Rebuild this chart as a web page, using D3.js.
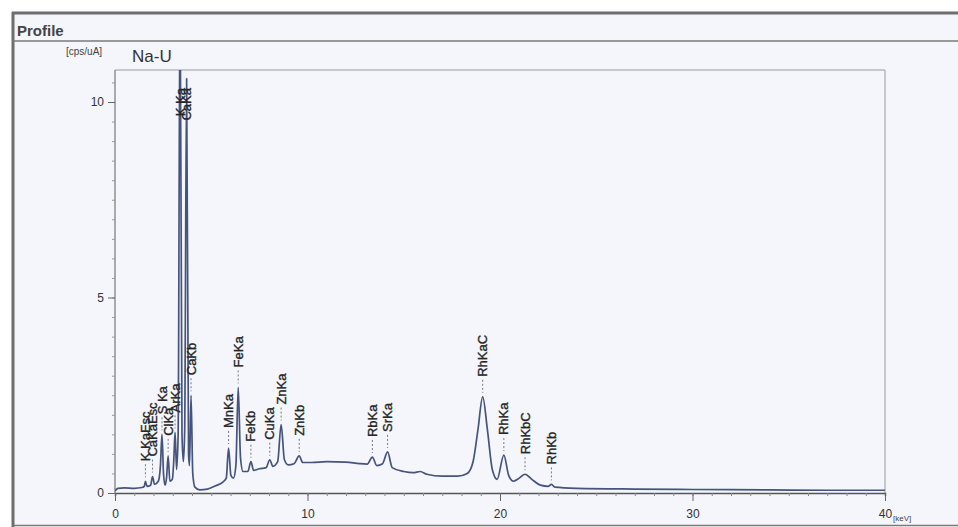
<!DOCTYPE html>
<html>
<head>
<meta charset="utf-8">
<script src="https://cdn.jsdelivr.net/npm/d3@7"></script>
<style>
  html, body { margin: 0; padding: 0; background: #ffffff; }
  svg { display: block; font-family: "Liberation Sans", Arial, sans-serif; }
</style>
</head>
<body>
<svg id="chart" width="958" height="527"></svg>
<script>
// X-ray fluorescence profile, Na-U channel
const sampleName = "Na-U";
const yUnit = "[cps/uA]";
const xUnit = "[keV]";

// spectrum read-out: energy (keV) and intensity (cps/uA)
const energyKeV = [
  0.00, 0.15, 0.50, 1.00, 1.40, 1.52, 1.58, 1.66, 1.85, 1.95, 2.05, 2.25, 2.36, 2.44, 2.52,
  2.60, 2.68, 2.76, 2.85, 2.98, 3.05, 3.12, 3.20, 3.28, 3.38, 3.48, 3.55, 3.62, 3.72, 3.82,
  3.87, 3.95, 4.04, 4.15, 4.40, 4.80, 5.20, 5.60, 5.78, 5.90, 6.02, 6.15, 6.28, 6.40, 6.52,
  6.65, 6.90, 7.06, 7.20, 7.50, 7.85, 8.04, 8.20, 8.45, 8.63, 8.80, 9.00, 9.30, 9.57, 9.75,
  10.2, 11.0, 12.0, 12.7, 13.1, 13.37, 13.6, 13.9, 14.16, 14.4, 15.0, 15.5, 15.85, 16.2, 17.0,
  17.8, 18.3, 18.6, 18.85, 19.1, 19.35, 19.6, 19.85, 20.2, 20.45, 20.7, 21.0, 21.3, 21.65, 22.1,
  22.5, 22.67, 22.85, 24.0, 27.0, 30.0, 34.0, 37.0, 40.0
];
const intensity = [
  0.05, 0.12, 0.13, 0.12, 0.14, 0.17, 0.30, 0.17, 0.20, 0.42, 0.22, 0.30, 0.70, 1.50, 0.50,
  0.20, 0.40, 0.95, 0.30, 0.35, 0.80, 1.55, 0.60, 1.50, 13.0, 1.50, 0.80, 1.60, 10.6, 1.00,
  0.70, 2.50, 0.50, 0.15, 0.08, 0.10, 0.18, 0.28, 0.38, 1.15, 0.45, 0.38, 0.70, 2.70, 0.90,
  0.55, 0.55, 0.80, 0.58, 0.62, 0.65, 0.85, 0.68, 0.80, 1.75, 0.85, 0.72, 0.75, 0.95, 0.78,
  0.78, 0.80, 0.79, 0.75, 0.74, 0.92, 0.70, 0.75, 1.05, 0.65, 0.55, 0.52, 0.55, 0.48, 0.43,
  0.43, 0.50, 0.80, 1.60, 2.46, 1.60, 0.60, 0.35, 0.97, 0.45, 0.30, 0.38, 0.48, 0.35, 0.20,
  0.17, 0.22, 0.15, 0.12, 0.10, 0.09, 0.08, 0.07, 0.07
];

// identified lines
const lineNames = ["K KaEsc", "CaKaEsc", "S Ka", "ClKa", "ArKa", "K Ka", "CaKa", "CaKb",
                   "MnKa", "FeKa", "FeKb", "CuKa", "ZnKa", "ZnKb",
                   "RbKa", "SrKa", "RhKaC", "RhKa", "RhKbC", "RhKb"];
const lineKeV = [1.58, 1.95, 2.44, 2.76, 3.12, 3.38, 3.72, 3.95,
                 5.90, 6.40, 7.06, 8.04, 8.63, 9.57,
                 13.37, 14.16, 19.1, 20.2, 21.3, 22.67];

const xTicksMajor = [0, 10, 20, 30, 40];
const yTicksMajor = [0, 5, 10];

const svg = d3.select("#chart");
const W = 958, H = 527;
const plot = { left: 115, right: 885, top: 70, bottom: 493 };

// panel background and frame
svg.append("rect").attr("x", 0).attr("y", 0).attr("width", W).attr("height", H).attr("fill", "#ffffff");
svg.append("rect").attr("x", 13).attr("y", 13).attr("width", W - 13).attr("height", 512)
  .attr("fill", "#f4f6fb");
svg.append("line").attr("x1", 12).attr("x2", W).attr("y1", 13).attr("y2", 13)
  .attr("stroke", "#6e6e6e").attr("stroke-width", 3);
svg.append("line").attr("x1", 13).attr("x2", 13).attr("y1", 12).attr("y2", 527)
  .attr("stroke", "#6e6e6e").attr("stroke-width", 3);
svg.append("line").attr("x1", 13).attr("x2", W).attr("y1", 41).attr("y2", 41)
  .attr("stroke", "#7a7a7a").attr("stroke-width", 1.5);
svg.append("line").attr("x1", 13).attr("x2", W).attr("y1", 525.5).attr("y2", 525.5)
  .attr("stroke", "#7a7a7a").attr("stroke-width", 1.5);
svg.append("text").attr("x", 17).attr("y", 36).text("Profile")
  .attr("font-size", 15).attr("font-weight", "bold").attr("fill", "#444");

svg.append("text").attr("x", 66).attr("y", 55).text(yUnit)
  .attr("font-size", 10).attr("fill", "#444");
svg.append("text").attr("x", 132).attr("y", 62).text(sampleName)
  .attr("font-size", 17).attr("fill", "#333");

const x = d3.scaleLinear().domain([0, 40]).range([plot.left, plot.right]);
const y = d3.scaleLinear().domain([0, 10]).range([plot.bottom, 102]);

// plot frame (top and right)
svg.append("path")
  .attr("d", `M${plot.left},${plot.top}H${plot.right}V${plot.bottom}`)
  .attr("fill", "none").attr("stroke", "#9a9a9a").attr("stroke-width", 1);

// x axis
const xMinor = d3.range(0, 41, 1);
svg.append("g").attr("transform", `translate(0,${plot.bottom})`)
  .call(d3.axisBottom(x).tickValues(xMinor).tickSize(3).tickFormat(""))
  .call(g => g.select(".domain").attr("stroke", "#555").attr("stroke-width", 1.5))
  .call(g => g.selectAll(".tick line").attr("stroke", "#888"));
svg.append("g").attr("transform", `translate(0,${plot.bottom})`)
  .call(d3.axisBottom(x).tickValues(xTicksMajor).tickSize(8).tickPadding(8))
  .call(g => g.select(".domain").remove())
  .call(g => g.selectAll(".tick line").attr("stroke", "#666"))
  .call(g => g.selectAll(".tick text").attr("font-size", 12).attr("fill", "#333")
    .attr("font-family", "'Liberation Sans', Arial, sans-serif"));
svg.append("text").attr("x", x(40) + 8).attr("y", plot.bottom + 28).text(xUnit)
  .attr("font-size", 8).attr("fill", "#444");

// y axis
const yMinor = d3.range(0, 10.81, 0.5);
svg.append("g").attr("transform", `translate(${plot.left},0)`)
  .call(d3.axisLeft(y).tickValues(yMinor).tickSize(3).tickFormat(""))
  .call(g => g.select(".domain").attr("stroke", "#777").attr("stroke-width", 1.2)
    .attr("d", `M0,${plot.bottom}V${plot.top}`))
  .call(g => g.selectAll(".tick line").attr("stroke", "#999"));
svg.append("g").attr("transform", `translate(${plot.left},0)`)
  .call(d3.axisLeft(y).tickValues(yTicksMajor).tickSize(7).tickPadding(4))
  .call(g => g.select(".domain").remove())
  .call(g => g.selectAll(".tick line").attr("stroke", "#666"))
  .call(g => g.selectAll(".tick text").attr("font-size", 12).attr("fill", "#333")
    .attr("font-family", "'Liberation Sans', Arial, sans-serif"));

// spectrum trace
svg.append("clipPath").attr("id", "plotClip").append("rect")
  .attr("x", plot.left).attr("y", plot.top)
  .attr("width", plot.right - plot.left).attr("height", plot.bottom - plot.top + 2);

const points = energyKeV.map((e, i) => [e, intensity[i]]);
const line = d3.line().x(d => x(d[0])).y(d => y(d[1])).curve(d3.curveMonotoneX);
svg.append("path").datum(points)
  .attr("clip-path", "url(#plotClip)")
  .attr("d", line)
  .attr("fill", "none").attr("stroke", "#46537c").attr("stroke-width", 1.7)
  .attr("stroke-linejoin", "round");

// line markers: rotated name above each peak with a dashed leader
const fontSize = 13;
const labelG = svg.append("g");
lineNames.forEach((name, i) => {
  const e = lineKeV[i];
  let peak = 0;
  points.forEach(p => { if (Math.abs(p[0] - e) < 0.05) peak = Math.max(peak, p[1]); });
  const px = x(e);
  const peakY = Math.max(y(peak), plot.top);
  const t = labelG.append("text")
    .attr("font-size", fontSize).attr("fill", "#262626")
    .attr("stroke", "#262626").attr("stroke-width", 0.35)
    .attr("text-anchor", "start").attr("dy", "0.35em")
    .text(name);
  const len = t.node().getComputedTextLength();
  let endY = peakY - 20;
  if (endY - len < 88) endY = 88 + len;
  t.attr("transform", `translate(${px},${endY}) rotate(-90)`);
  if (peakY - 4 > endY + 3) {
    labelG.append("line")
      .attr("x1", px).attr("x2", px).attr("y1", endY + 3).attr("y2", peakY - 4)
      .attr("stroke", "#777").attr("stroke-width", 1).attr("stroke-dasharray", "2,2");
  }
});
</script>
</body>
</html>
